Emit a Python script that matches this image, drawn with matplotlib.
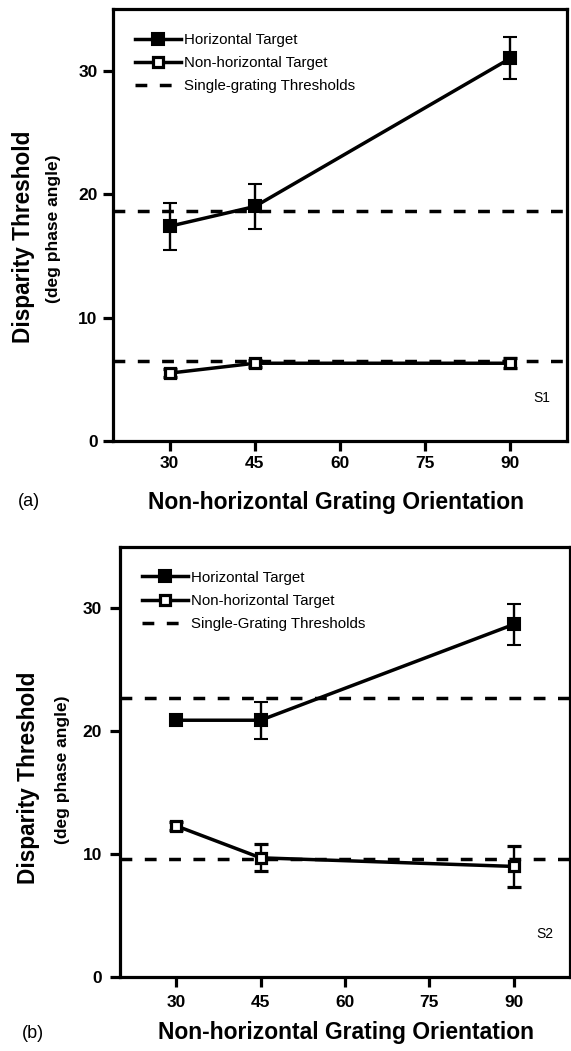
"""Disparity thresholds vs. grating orientation, two observers."""

import matplotlib
matplotlib.use('Agg')
import matplotlib.pyplot as plt
from matplotlib.lines import Line2D

plt.rcParams['font.family'] = ['Liberation Sans', 'DejaVu Sans']

orientations = [30, 45, 90]

# observer S1
s1_horiz = [17.4, 19.0, 31.0]
s1_horiz_err = [1.9, 1.8, 1.7]
s1_nonhoriz = [5.5, 6.3, 6.3]
s1_nonhoriz_err = [0.3, 0.3, 0.4]
s1_single = [18.6, 6.5]

# observer S2
s2_horiz = [20.9, 20.9, 28.7]
s2_horiz_err = [0.3, 1.5, 1.7]
s2_nonhoriz = [12.3, 9.7, 9.0]
s2_nonhoriz_err = [0.3, 1.1, 1.7]
s2_single = [22.7, 9.6]

xticks = [30, 45, 60, 75, 90]
yticks = [0, 10, 20, 30]

LW = 2.5
DASH = (0, (3.4, 3.6))
FILLED = dict(marker='s', ms=8.3, mfc='black', mec='black', mew=1.5)
OPEN = dict(marker='s', ms=7.0, mfc='white', mec='black', mew=2.3)


def draw_panel(ax, horiz, horiz_err, nonhoriz, nonhoriz_err, single,
               legend_labels, subject, pad):
    for level in single:
        ax.axhline(level, color='black', lw=LW, linestyle=DASH, zorder=1)
    err_kw = dict(ecolor='black', elinewidth=1.7, capsize=4.7, capthick=1.7)
    ax.errorbar(orientations, horiz, yerr=horiz_err, fmt='-', color='black',
                lw=LW, zorder=3, **FILLED, **err_kw)
    ax.errorbar(orientations, nonhoriz, yerr=nonhoriz_err, fmt='-',
                color='black', lw=LW, zorder=3, **OPEN, **err_kw)

    ax.set_xlim(20, 100)
    ax.set_ylim(0, 35)
    ax.set_xticks(xticks)
    ax.set_yticks(yticks)
    for s in ax.spines.values():
        s.set_linewidth(2.3)
    ax.tick_params(direction='out', length=7, width=2.3, labelsize=12.5,
                   pad=pad)
    for lab in ax.get_xticklabels() + ax.get_yticklabels():
        lab.set_fontweight('bold')

    handles = [
        Line2D([], [], color='black', lw=LW, **FILLED),
        Line2D([], [], color='black', lw=LW, **OPEN),
        Line2D([], [], color='black', lw=LW, linestyle=DASH),
    ]
    ax.legend(handles, legend_labels, loc='upper left',
              bbox_to_anchor=(0.048, 0.945), frameon=False, fontsize=10.8,
              handlelength=3.1, handletextpad=0.2, labelspacing=0.62,
              borderpad=0, borderaxespad=0, numpoints=1)
    ax.text(0.945, 0.10, subject, transform=ax.transAxes, fontsize=10,
            ha='center', va='center')


W, H = 571, 1051
fig = plt.figure(figsize=(W / 100, H / 100), dpi=100)

ax_a = fig.add_axes([113 / W, 1 - 441 / H, 454 / W, 432 / H])
ax_b = fig.add_axes([120 / W, 1 - 977 / H, 450 / W, 430 / H])

draw_panel(ax_a, s1_horiz, s1_horiz_err, s1_nonhoriz, s1_nonhoriz_err,
           s1_single,
           ['Horizontal Target', 'Non-horizontal Target',
            'Single-grating Thresholds'], 'S1', 4)
draw_panel(ax_b, s2_horiz, s2_horiz_err, s2_nonhoriz, s2_nonhoriz_err,
           s2_single,
           ['Horizontal Target', 'Non-horizontal Target',
            'Single-Grating Thresholds'], 'S2', 6)

# axis titles and panel letters
for yc, yc2, xc, xc2, xlab_x, xlab_y, letter_x, letter in [
        (237, 229, 24, 54, 336, 502, 29, '(a)'),
        (778, 770, 29, 62, 346, 1033, 33, '(b)')]:
    fig.text(xc / W, 1 - yc / H, 'Disparity Threshold', rotation=90,
             fontsize=16.3, fontweight='bold', ha='center', va='center')
    fig.text(xc2 / W, 1 - yc2 / H, '(deg phase angle)', rotation=90,
             fontsize=12.5, fontweight='bold', ha='center', va='center')
    fig.text(xlab_x / W, 1 - xlab_y / H, 'Non-horizontal Grating Orientation',
             fontsize=16.5, fontweight='bold', ha='center', va='center')
    fig.text(letter_x / W, 1 - xlab_y / H, letter, fontsize=13,
             ha='center', va='center')

fig.savefig('out.png', dpi=100)
